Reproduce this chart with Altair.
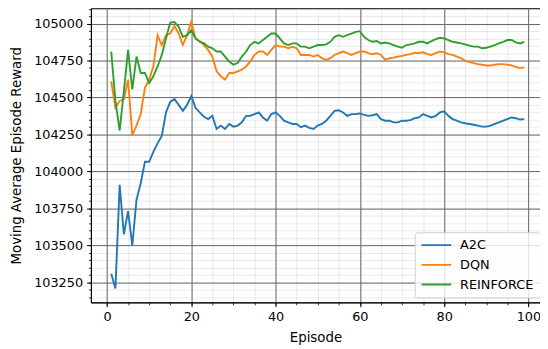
import altair as alt
import pandas as pd

episodes = list(range(1, 100))

a2c = [103308, 103208, 103909, 103575, 103731, 103497, 103809, 103920, 104065, 104065,
       104132, 104190, 104240, 104400, 104470, 104490, 104450, 104410, 104450, 104510,
       104430, 104400, 104370, 104354, 104376, 104287, 104310, 104287, 104321, 104303,
       104310, 104332, 104376, 104376, 104388, 104399, 104365, 104343, 104388, 104399,
       104376, 104343, 104332, 104321, 104321, 104299, 104310, 104295, 104287, 104310,
       104321, 104343, 104376, 104410, 104414, 104399, 104376, 104388, 104388, 104392,
       104383, 104376, 104380, 104388, 104354, 104343, 104343, 104332, 104332, 104343,
       104343, 104347, 104360, 104365, 104388, 104376, 104365, 104376, 104399, 104406,
       104376, 104354, 104343, 104332, 104326, 104321, 104316, 104310, 104303, 104303,
       104310, 104321, 104332, 104343, 104354, 104365, 104360, 104351, 104354]

dqn = [104610, 104432, 104477, 104488, 104621, 104243, 104310, 104388, 104566, 104621,
       104710, 104922, 104855, 104922, 104933, 104984, 104933, 104855, 104922, 105011,
       104900, 104880, 104855, 104822, 104777, 104677, 104644, 104621, 104666, 104666,
       104677, 104688, 104710, 104744, 104788, 104811, 104811, 104788, 104822, 104855,
       104844, 104844, 104833, 104844, 104833, 104788, 104788, 104788, 104777, 104788,
       104766, 104755, 104766, 104788, 104800, 104811, 104800, 104788, 104800, 104811,
       104811, 104800, 104793, 104800, 104788, 104755, 104766, 104770, 104777, 104782,
       104788, 104793, 104803, 104800, 104806, 104793, 104788, 104800, 104811, 104806,
       104793, 104788, 104777, 104766, 104748, 104739, 104733, 104726, 104722, 104717,
       104717, 104722, 104726, 104726, 104722, 104717, 104708, 104699, 104704]

reinforce = [104811, 104477, 104276, 104543, 104822, 104555, 104777, 104666, 104666, 104599,
             104644, 104710, 104788, 104900, 105007, 105011, 104978, 104911, 104922, 104955,
             104900, 104878, 104866, 104844, 104833, 104811, 104811, 104777, 104744, 104722,
             104733, 104777, 104811, 104855, 104877, 104866, 104889, 104911, 104933, 104933,
             104900, 104866, 104855, 104866, 104866, 104844, 104844, 104833, 104844, 104855,
             104855, 104860, 104877, 104911, 104922, 104911, 104922, 104933, 104944, 104949,
             104911, 104889, 104877, 104882, 104866, 104872, 104866, 104855, 104844, 104837,
             104855, 104860, 104866, 104877, 104877, 104866, 104882, 104895, 104904, 104900,
             104889, 104877, 104872, 104866, 104860, 104851, 104844, 104844, 104833, 104837,
             104844, 104855, 104866, 104877, 104889, 104889, 104873, 104866, 104877]

series_names = ["A2C", "DQN", "REINFORCE"]
series_colors = ["#1f77b4", "#ff7f0e", "#2ca02c"]

x_major = [0, 20, 40, 60, 80, 100]
x_minor = list(range(0, 101, 5))
y_major = [103250, 103500, 103750, 104000, 104250, 104500, 104750, 105000]
y_minor = list(range(103150, 105101, 50))

rows = []
for name, vals in zip(series_names, [a2c, dqn, reinforce]):
    for e, v in zip(episodes, vals):
        rows.append({"Episode": e, "Reward": v, "Series": name})
df = pd.DataFrame(rows)

FONT = "DejaVu Sans"
xscale = alt.Scale(domain=[-3.82, 102.74], nice=False, zero=False)
yscale = alt.Scale(domain=[103114, 105104], nice=False, zero=False)

base = alt.Chart(df)

minor = base.mark_line(opacity=0).encode(
    x=alt.X("Episode:Q", scale=xscale,
            axis=alt.Axis(values=x_minor, labels=False, domain=False, ticks=True,
                          tickSize=2.5, tickColor="black", tickWidth=0.8,
                          grid=True, gridColor="#999999", gridOpacity=0.2,
                          gridWidth=1, title=None, orient="bottom")),
    y=alt.Y("Reward:Q", scale=yscale,
            axis=alt.Axis(values=y_minor, labels=False, domain=False, ticks=True,
                          tickSize=2.5, tickColor="black", tickWidth=0.8,
                          grid=True, gridColor="#999999", gridOpacity=0.2,
                          gridWidth=1, title=None, orient="left")),
    detail="Series:N",
)

major = base.mark_line(strokeWidth=1.9).encode(
    x=alt.X("Episode:Q", scale=xscale,
            axis=alt.Axis(values=x_major, title="Episode", orient="bottom",
                          format="d", labelFontSize=13, titleFontSize=13.5,
                          labelFont=FONT, titleFont=FONT,
                          labelColor="black", titleColor="black",
                          titleFontWeight="normal", labelPadding=4,
                          tickSize=4.4, tickColor="black", tickWidth=1,
                          domainColor="black", domainWidth=1,
                          grid=True, gridColor="#666666", gridWidth=1,
                          titleY=36, titleBaseline="middle")),
    y=alt.Y("Reward:Q", scale=yscale,
            axis=alt.Axis(values=y_major, title="Moving Average Episode Reward",
                          orient="left", format="d", labelFontSize=13,
                          titleFontSize=13.5, labelFont=FONT, titleFont=FONT,
                          labelColor="black", titleColor="black",
                          titleFontWeight="normal", labelPadding=4,
                          tickSize=4.4, tickColor="black", tickWidth=1,
                          domainColor="black", domainWidth=1,
                          grid=True, gridColor="#666666", gridWidth=1,
                          titleX=-75, titleY=149, titleBaseline="middle",
                          titleAlign="center")),
    color=alt.Color("Series:N",
                    scale=alt.Scale(domain=series_names, range=series_colors),
                    legend=alt.Legend(title=None, orient="none", legendX=328,
                                      legendY=227, symbolType="stroke",
                                      symbolSize=900, symbolStrokeWidth=2,
                                      clipHeight=14, rowPadding=6,
                                      labelFontSize=13, labelFont=FONT,
                                      labelColor="black", labelOffset=8,
                                      padding=6, strokeColor="#cccccc",
                                      fillColor="rgba(255,255,255,0.8)",
                                      cornerRadius=3)),
)

chart = (
    alt.layer(minor, major)
    .resolve_axis(x="independent", y="independent")
    .properties(width=455, height=298,
                autosize=alt.AutoSizeParams(type="none"),
                padding={"left": 84, "top": -2, "right": 0, "bottom": 45},
                background="white")
    .configure_view(stroke="black", strokeWidth=1)
)

chart.save("out.html", embed_options={"renderer": "svg", "actions": False})
